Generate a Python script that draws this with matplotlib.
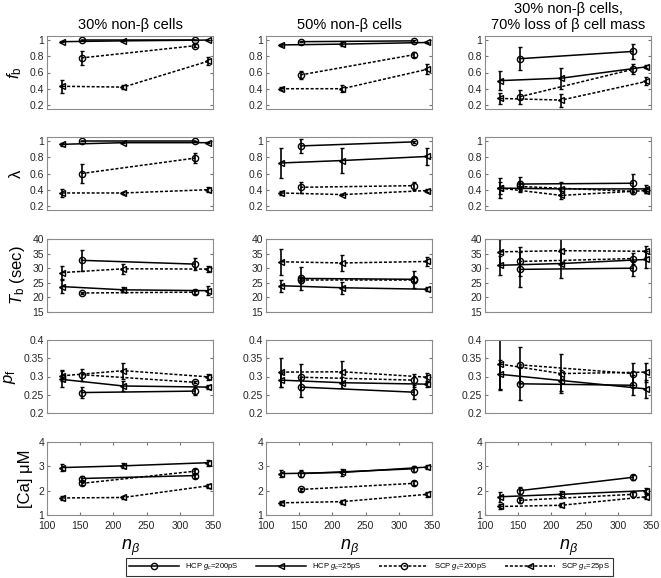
import numpy as np
import matplotlib
matplotlib.use("Agg")
import matplotlib.pyplot as plt
from matplotlib.lines import Line2D

plt.rcParams['font.family'] = ['Liberation Sans', 'DejaVu Sans']
plt.rcParams['mathtext.fontset'] = 'custom'
plt.rcParams['mathtext.it'] = 'Liberation Sans:italic'
plt.rcParams['mathtext.rm'] = 'Liberation Sans'

# x positions (n_beta) for the two kinds of coupling
n_200 = [152, 323]
n_25 = [123, 215, 343]

col_titles = ["30% non-\u03b2 cells", "50% non-\u03b2 cells",
              "30% non-\u03b2 cells,\n70% loss of \u03b2 cell mass"]
row_labels = ["$f_{\\mathrm{b}}$", "\u03bb", "$T_{\\mathrm{b}}$ (sec)", "$p_{\\mathrm{f}}$", "[Ca] \u03bcM"]
legend_labels = ["HCP $g_c$=200pS", "HCP $g_c$=25pS", "SCP $g_c$=200pS", "SCP $g_c$=25pS"]

# each list holds one entry per column (30%, 50%, 30% + 70% loss)
fb_hcp200 = [[1.0, 1.0], [0.98, 0.99], [0.77, 0.86]]
fb_hcp200_err = [[0.0, 0.0], [0.01, 0.01], [0.14, 0.09]]
fb_hcp25 = [[0.98, 0.99, 1.0], [0.94, 0.95, 0.97], [0.50, 0.53, 0.67]]
fb_hcp25_err = [[0.01, 0.0, 0.0], [0.01, 0.02, 0.01], [0.12, 0.13, 0.02]]
fb_scp200 = [[0.78, 0.93], [0.57, 0.82], [0.30, 0.64]]
fb_scp200_err = [[0.09, 0.02], [0.05, 0.03], [0.09, 0.06]]
fb_scp25 = [[0.43, 0.42, 0.74], [0.40, 0.40, 0.64], [0.28, 0.26, 0.49]]
fb_scp25_err = [[0.08, 0.02, 0.05], [0.02, 0.04, 0.06], [0.07, 0.08, 0.05]]

lam_hcp200 = [[1.0, 1.0], [0.94, 0.99], [0.47, 0.48]]
lam_hcp200_err = [[0.0, 0.0], [0.09, 0.01], [0.09, 0.11]]
lam_hcp25 = [[0.96, 0.98, 0.98], [0.73, 0.76, 0.81], [0.42, 0.41, 0.41]]
lam_hcp25_err = [[0.02, 0.01, 0.01], [0.18, 0.15, 0.10], [0.12, 0.08, 0.05]]
lam_scp200 = [[0.60, 0.79], [0.43, 0.45], [0.44, 0.38]]
lam_scp200_err = [[0.12, 0.06], [0.07, 0.05], [0.07, 0.03]]
lam_scp25 = [[0.36, 0.36, 0.40], [0.36, 0.34, 0.39], [0.42, 0.33, 0.39]]
lam_scp25_err = [[0.05, 0.01, 0.03], [0.02, 0.01, 0.02], [0.07, 0.05, 0.03]]

tb_hcp200 = [[32.7, 31.4], [26.5, 26.2], [29.6, 30.0]]
tb_hcp200_err = [[3.5, 2.0], [4.0, 3.0], [6.0, 2.5]]
tb_hcp25 = [[23.7, 22.6, 22.3], [24.0, 23.3, 22.8], [31.0, 31.6, 33.0]]
tb_hcp25_err = [[2.3, 0.8, 1.5], [2.0, 2.0, 0.6], [3.2, 5.0, 3.0]]
tb_scp200 = [[21.5, 21.8], [26.0, 26.0], [32.3, 33.3]]
tb_scp200_err = [[0.5, 0.5], [1.0, 1.0], [5.0, 2.0]]
tb_scp25 = [[28.5, 29.8, 29.7], [32.2, 31.8, 32.3], [35.6, 36.0, 35.8]]
tb_scp25_err = [[2.3, 1.8, 1.0], [4.5, 2.8, 1.5], [4.5, 4.5, 1.8]]

pf_hcp200 = [[0.256, 0.260], [0.271, 0.257], [0.280, 0.276]]
pf_hcp200_err = [[0.014, 0.010], [0.028, 0.020], [0.045, 0.028]]
pf_hcp25 = [[0.292, 0.274, 0.271], [0.290, 0.283, 0.279], [0.306, 0.289, 0.266]]
pf_hcp25_err = [[0.022, 0.015, 0.006], [0.020, 0.015, 0.008], [0.040, 0.030, 0.025]]
pf_scp200 = [[0.305, 0.284], [0.298, 0.290], [0.332, 0.308]]
pf_scp200_err = [[0.016, 0.003], [0.035, 0.018], [0.050, 0.030]]
pf_scp25 = [[0.302, 0.316, 0.299], [0.312, 0.313, 0.298], [0.334, 0.308, 0.312]]
pf_scp25_err = [[0.015, 0.022, 0.008], [0.040, 0.030, 0.012], [0.070, 0.053, 0.026]]

ca_hcp200 = [[2.50, 2.62], [2.70, 2.90], [2.00, 2.55]]
ca_hcp200_err = [[0.10, 0.08], [0.15, 0.12], [0.15, 0.10]]
ca_hcp25 = [[2.95, 3.02, 3.15], [2.70, 2.75, 2.97], [1.75, 1.85, 2.00]]
ca_hcp25_err = [[0.15, 0.10, 0.12], [0.15, 0.15, 0.08], [0.20, 0.15, 0.10]]
ca_scp200 = [[2.30, 2.80], [2.05, 2.30], [1.60, 1.85]]
ca_scp200_err = [[0.08, 0.10], [0.08, 0.08], [0.10, 0.10]]
ca_scp25 = [[1.70, 1.72, 2.20], [1.50, 1.55, 1.85], [1.35, 1.40, 1.75]]
ca_scp25_err = [[0.08, 0.05, 0.08], [0.08, 0.08, 0.10], [0.10, 0.08, 0.10]]

rows = [
    (fb_hcp200, fb_hcp200_err, fb_hcp25, fb_hcp25_err, fb_scp200, fb_scp200_err, fb_scp25, fb_scp25_err),
    (lam_hcp200, lam_hcp200_err, lam_hcp25, lam_hcp25_err, lam_scp200, lam_scp200_err, lam_scp25, lam_scp25_err),
    (tb_hcp200, tb_hcp200_err, tb_hcp25, tb_hcp25_err, tb_scp200, tb_scp200_err, tb_scp25, tb_scp25_err),
    (pf_hcp200, pf_hcp200_err, pf_hcp25, pf_hcp25_err, pf_scp200, pf_scp200_err, pf_scp25, pf_scp25_err),
    (ca_hcp200, ca_hcp200_err, ca_hcp25, ca_hcp25_err, ca_scp200, ca_scp200_err, ca_scp25, ca_scp25_err),
]
ylims = [(0.15, 1.05), (0.15, 1.05), (15, 40), (0.2, 0.4), (1, 4)]
yticks = [[0.2, 0.4, 0.6, 0.8, 1], [0.2, 0.4, 0.6, 0.8, 1], [15, 20, 25, 30, 35, 40],
          [0.2, 0.25, 0.3, 0.35, 0.4], [1, 2, 3, 4]]
yticklabels = [["0.2", "0.4", "0.6", "0.8", "1"], ["0.2", "0.4", "0.6", "0.8", "1"],
               ["15", "20", "25", "30", "35", "40"], ["0.2", "0.25", "0.3", "0.35", "0.4"],
               ["1", "2", "3", "4"]]

W, H = 661, 578
fig = plt.figure(figsize=(W / 100, H / 100), dpi=100)

col_left = [47, 266, 485]
row_top = [36, 137, 239, 340, 442]
ax_w, ax_h = 166, 73

dots = (0, (2, 1.2))
styles = [('-', 'o'), ('-', '<'), (dots, 'o'), (dots, '<')]

for r in range(5):
    for c in range(3):
        ax = fig.add_axes([col_left[c] / W, 1 - (row_top[r] + ax_h) / H, ax_w / W, ax_h / H])
        series = rows[r]
        for k in range(4):
            vals = series[2 * k][c]
            errs = series[2 * k + 1][c]
            xs = n_200 if k % 2 == 0 else n_25
            ls, mk = styles[k]
            ax.errorbar(xs, vals, yerr=errs, color='k', ls=ls, lw=1.1, marker=mk,
                        ms=4.5, mfc='none', mec='k', mew=1.0,
                        ecolor='k', elinewidth=1.2, capsize=1.5, capthick=1.2)
        ax.set_xlim(100, 350)
        ax.set_ylim(*ylims[r])
        ax.set_yticks(yticks[r])
        ax.set_yticklabels(yticklabels[r])
        ax.tick_params(direction='in', length=2.5, labelsize=7.5, colors='0.45',
                       labelcolor='0.15', right=True, top=True, pad=2)
        ax.tick_params(axis='x', pad=4)
        for s in ax.spines.values():
            s.set_color('0.55')
            s.set_linewidth(0.8)
        if r < 4:
            ax.set_xticks([])
        else:
            ax.set_xticks([100, 150, 200, 250, 300, 350])
            ax.set_xlabel("$n_{\\beta}$", fontsize=13, labelpad=5)
        if r == 0:
            ax.set_title(col_titles[c], fontsize=10.5, pad=5)
        if c == 0:
            ax.set_ylabel(row_labels[r], fontsize=12, labelpad=4)

handles = [Line2D([], [], color='k', ls=ls, lw=1.1, marker=mk, ms=4.5, mfc='none', mec='k')
           for ls, mk in styles]
leg = fig.legend(handles, legend_labels, loc='center', ncol=4, numpoints=1,
                 bbox_to_anchor=(369.5 / W, 1 - 567 / H), fontsize=5.5,
                 handlelength=6.5, columnspacing=2.3, handletextpad=0.8,
                 frameon=True, fancybox=False, edgecolor='k', borderpad=0.4)
leg.get_frame().set_linewidth(0.8)

fig.savefig("out.png", dpi=100)
